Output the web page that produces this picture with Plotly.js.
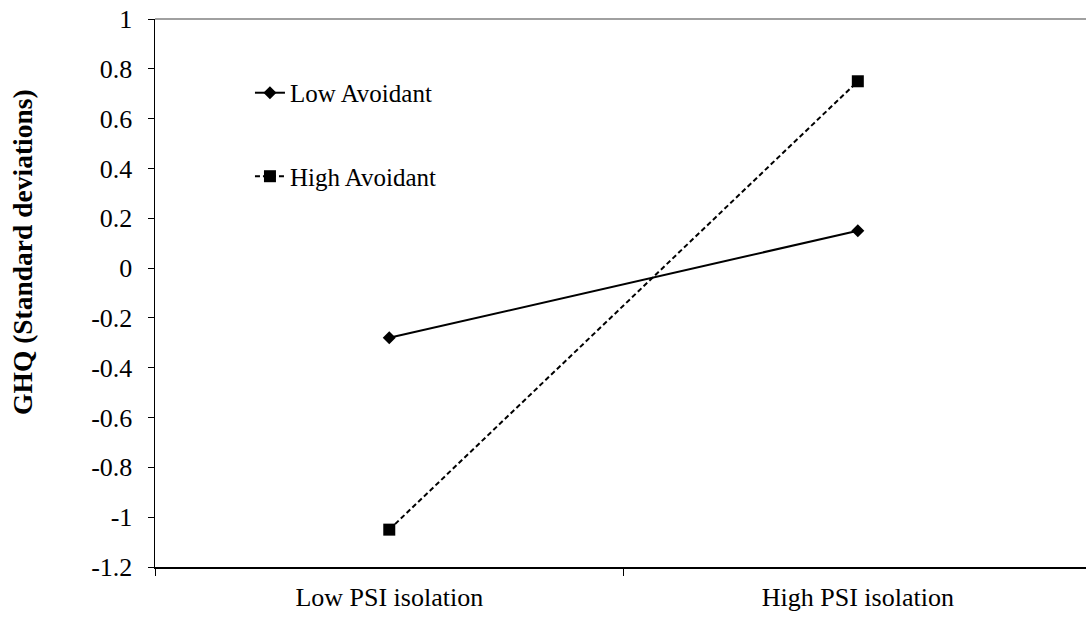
<!DOCTYPE html>
<html>
<head>
<meta charset="utf-8">
<script src="https://cdn.plot.ly/plotly-3.0.1.min.js"></script>
<style>html,body{margin:0;padding:0;background:#fff;}#chart{width:1086px;height:619px;}</style>
</head>
<body>
<div id="chart"></div>
<script>
const categories = ["Low PSI isolation", "High PSI isolation"];
const lowAvoidant = [-0.28, 0.15];
const highAvoidant = [-1.05, 0.75];
const yTickVals = [1, 0.8, 0.6, 0.4, 0.2, 0, -0.2, -0.4, -0.6, -0.8, -1, -1.2];
const yTickText = ["1", "0.8", "0.6", "0.4", "0.2", "0", "-0.2", "-0.4", "-0.6", "-0.8", "-1", "-1.2"];
const yTitle = "GHQ (Standard deviations)";

const font = "Liberation Serif, Times New Roman, serif";

const traces = [
  {
    x: categories, y: lowAvoidant, name: "Low Avoidant", type: "scatter", mode: "lines+markers",
    line: {color: "#000", width: 2}, marker: {symbol: "diamond", size: 10, color: "#000"},
    legendgroup: "a"
  },
  {
    x: categories, y: highAvoidant, name: "High Avoidant", type: "scatter", mode: "lines+markers",
    line: {color: "#000", width: 2, dash: "5px,3px"}, marker: {symbol: "square", size: 12, color: "#000"},
    legendgroup: "b"
  }
];

const layout = {
  width: 1086, height: 619,
  margin: {l: 155, r: 0, t: 19, b: 52},
  paper_bgcolor: "#fff", plot_bgcolor: "#fff",
  font: {family: font, size: 26, color: "#000"},
  showlegend: true,
  legend: {
    x: 0.102, y: 0.907, xanchor: "left", yanchor: "top",
    font: {family: font, size: 25, color: "#000"},
    traceorder: "grouped", tracegroupgap: 48,
    bgcolor: "rgba(0,0,0,0)"
  },
  xaxis: {
    type: "category", range: [-0.5, 1.487],
    showline: true, linecolor: "#000", linewidth: 1.5,
    ticks: "outside", tickson: "boundaries", ticklen: 7, tickcolor: "#000", tickwidth: 1,
    showgrid: false, zeroline: false, ticklabelstandoff: 6,
    tickfont: {family: font, size: 26, color: "#000"}
  },
  yaxis: {
    range: [-1.2, 1], tickmode: "array", tickvals: yTickVals, ticktext: yTickText,
    showline: true, linecolor: "#000", linewidth: 1.5,
    ticks: "outside", ticklen: 6, tickcolor: "#000", tickwidth: 1,
    showgrid: false, zeroline: false, ticklabelstandoff: 10,
    tickfont: {family: font, size: 26, color: "#000"}
  },
  annotations: [
    {
      text: "<b>" + yTitle + "</b>", xref: "paper", yref: "paper", x: -0.1418, y: 0.575,
      xanchor: "center", yanchor: "middle", textangle: -90, showarrow: false,
      font: {family: font, size: 27.5, color: "#000"}
    }
  ],
  shapes: [
    {type: "line", xref: "paper", yref: "paper", x0: 0, x1: 1, y0: 1, y1: 1, line: {color: "#808080", width: 1.5}}
  ]
};

Plotly.newPlot("chart", traces, layout, {displayModeBar: false, staticPlot: true});
</script>
</body>
</html>
